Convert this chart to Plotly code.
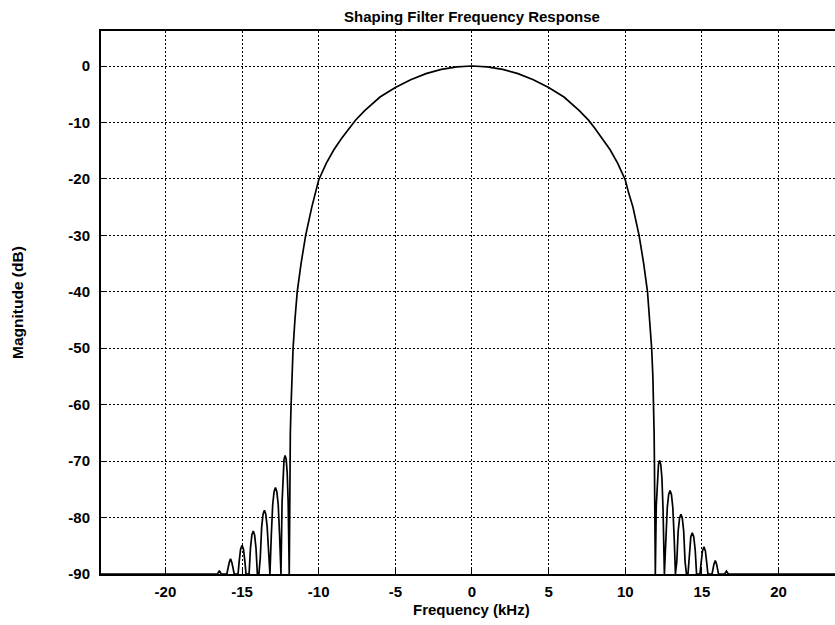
import plotly.graph_objects as go

# Shaping filter magnitude response, frequency in kHz, magnitude in dB (floor at -90 dB)
left_floor_khz = [-24.2, -16.85]
left_floor_db = [-90, -90]

# sidelobes below the main lobe, outermost first
left_lobes_khz = [-16.60, -16.48, -16.36, -16.10,
                  -15.99, -15.84, -15.75, -15.66, -15.51, -15.39,
                  -15.26, -15.19, -15.095, -15.00, -14.905, -14.81, -14.74, -14.63,
                  -14.54, -14.45, -14.36, -14.27, -14.18, -14.09, -14.00, -13.90,
                  -13.81, -13.72, -13.63, -13.54, -13.45, -13.36, -13.27, -13.18,
                  -13.09, -13.00, -12.91, -12.82, -12.73, -12.64, -12.55, -12.46,
                  -12.39, -12.325, -12.26, -12.19, -12.12, -12.055, -11.99, -11.92]
left_lobes_db = [-90, -89.4, -90, -90,
                 -90, -88.0, -87.3, -88.0, -90, -90,
                 -90, -87.9, -85.6, -84.9, -85.6, -87.9, -90, -90,
                 -90, -85.4, -83.1, -82.4, -83.1, -85.4, -90, -90,
                 -87.1, -81.7, -79.4, -78.7, -79.4, -81.7, -87.1, -90,
                 -83.1, -77.7, -75.4, -74.7, -75.4, -77.7, -83.1, -90,
                 -77.4, -72.0, -69.7, -69.0, -69.7, -72.0, -77.4, -90]

# main lobe
main_khz = [-11.88, -11.85, -11.80, -11.75, -11.67, -11.55, -11.40, -11.15, -10.85, -10.45,
            -10.2, -10.0, -9.5, -9.0, -8.5, -8.0, -7.6, -7.0, -6.0, -5.0, -4.0, -3.0, -2.0, -1.0,
            0.0,
            1.0, 2.0, 3.0, 4.0, 5.0, 6.0, 7.0, 7.6, 8.0, 8.5, 9.0, 9.5, 10.0, 10.2,
            10.5, 10.9, 11.2, 11.45, 11.6, 11.72, 11.8, 11.85, 11.88, 11.9]
main_db = [-70, -65, -60, -55, -50, -45, -40, -35, -30, -25,
           -22.3, -20.2, -17.2, -14.8, -12.8, -11.0, -9.6, -7.9, -5.5, -3.8, -2.45, -1.35, -0.6, -0.15,
           0.0,
           -0.15, -0.6, -1.35, -2.45, -3.8, -5.5, -7.9, -9.6, -11.0, -12.8, -14.8, -17.2, -20.2, -22.3,
           -25, -30, -35, -40, -45, -50, -55, -60, -65, -70]

# sidelobes above the main lobe, innermost first
right_lobes_khz = [11.96,
                   12.02, 12.09, 12.165, 12.24, 12.315, 12.39, 12.46, 12.55,
                   12.65, 12.74, 12.83, 12.92, 13.01, 13.10, 13.19, 13.27,
                   13.36, 13.45, 13.54, 13.63, 13.72, 13.81, 13.90, 13.99,
                   14.09, 14.18, 14.275, 14.37, 14.465, 14.56, 14.65, 14.75,
                   14.87, 14.94, 15.035, 15.13, 15.225, 15.32, 15.39, 15.50,
                   15.66, 15.78, 15.87, 15.96, 16.08, 16.25,
                   16.48, 16.60, 16.72]
right_lobes_db = [-90,
                  -78.0, -73.0, -70.6, -69.9, -70.6, -73.0, -78.3, -90,
                  -83.6, -78.2, -75.9, -75.2, -75.9, -78.2, -83.6, -90,
                  -87.8, -82.4, -80.1, -79.4, -80.1, -82.4, -87.8, -90,
                  -90, -85.7, -83.4, -82.7, -83.4, -85.7, -90, -90,
                  -90, -88.2, -85.9, -85.2, -85.9, -88.2, -90, -90,
                  -90, -88.3, -87.6, -88.3, -90, -90,
                  -90, -89.5, -90]
right_floor_khz = [17.0, 24.2]
right_floor_db = [-90, -90]

x_ticks = [-20, -15, -10, -5, 0, 5, 10, 15, 20]
y_ticks = [0, -10, -20, -30, -40, -50, -60, -70, -80, -90]

freq = left_floor_khz + left_lobes_khz + main_khz + right_lobes_khz + right_floor_khz
mag = left_floor_db + left_lobes_db + main_db + right_lobes_db + right_floor_db

FONT = "Liberation Sans, Arial, Helvetica, sans-serif"

fig = go.Figure(go.Scatter(x=freq, y=mag, mode="lines",
                           line=dict(color="black", width=1.7),
                           hoverinfo="skip", showlegend=False))

axis_common = dict(
    showgrid=True, gridcolor="black", griddash="2px,2px", gridwidth=1,
    showline=True, linecolor="black", linewidth=2,
    ticks="inside", ticklen=5, tickcolor="black", tickwidth=1,
    zeroline=False, tickfont=dict(family=FONT, size=15, color="black", weight="bold"),
)

fig.update_layout(
    width=835, height=625,
    margin=dict(l=101, r=0, t=31, b=51),
    paper_bgcolor="white", plot_bgcolor="white",
    xaxis=dict(range=[-24.2, 23.68], tickmode="array", tickvals=x_ticks,
               ticktext=[str(v) for v in x_ticks], mirror=True,
               ticklabelstandoff=3, **axis_common),
    yaxis=dict(range=[-90, 6.2], tickmode="array", tickvals=y_ticks,
               ticktext=[str(v) for v in y_ticks], mirror=False,
               ticklabelstandoff=6, **axis_common),
    annotations=[
        dict(text="Shaping Filter Frequency Response", xref="x", x=0, yref="paper", y=1.0258,
             xanchor="center", yanchor="middle", showarrow=False,
             font=dict(family=FONT, size=15, color="black", weight="bold")),
        dict(text="Frequency (kHz)", xref="x", x=0, yref="paper", y=-0.0645,
             xanchor="center", yanchor="middle", showarrow=False,
             font=dict(family=FONT, size=15, color="black", weight="bold")),
        dict(text="Magnitude (dB)", xref="paper", x=-0.1131, yref="paper", y=0.501,
             xanchor="center", yanchor="middle", textangle=-90, showarrow=False,
             font=dict(family=FONT, size=15.5, color="black", weight="bold")),
    ],
)

fig.write_html("out.html")
